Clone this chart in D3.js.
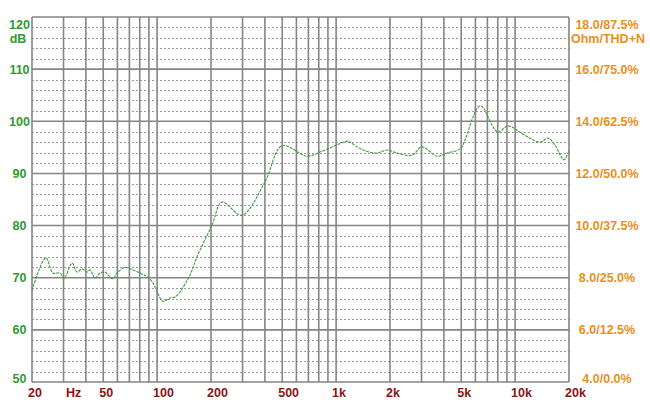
<!DOCTYPE html>
<html><head><meta charset="utf-8">
<script src="https://cdn.jsdelivr.net/npm/d3@7"></script>
<style>
html,body{margin:0;padding:0;background:#fff;}
text{font-family:"Liberation Sans",Arial,sans-serif;font-weight:bold;}
</style></head>
<body>
<svg id="c" width="650" height="410"></svg>
<script>
// ---- data ----
const freqs = [20,23.9,26.2,28.7,30.2,33.5,35.7,38.1,40.6,42.2,45.0,48.0,51.2,53.2,56.7,59.7,66.2,70.6,80.2,88.9,94.8,99.9,107.9,118,125.9,134.3,152.6,167,202.6,230.4,298,400.6,498.6,687.6,812.8,1166,1195,1414,1692,1924,2188,2654,3018,3662,4164,4922,5248,5818,6284,6616,7056,8026,9008,9610,10648,13772,15268,16706,18756,20000];
const splDb = [67.6,73.8,70.9,70.9,69.9,72.8,71.1,71.7,71.1,71.5,69.9,70.9,71.1,70.5,69.8,70.9,72.0,71.7,70.9,70.1,69.0,67.3,65.5,66.1,66.3,67.3,70.5,74.0,80.1,84.5,82.0,88.4,95.3,93.3,94.1,96.2,96.0,94.5,93.9,94.5,93.9,93.5,95.1,93.3,93.9,94.7,96.4,100.8,102.9,102.7,100.8,97.9,99.1,98.9,97.9,96.0,96.8,95.4,92.6,94.5];
const leftTicks = [50,60,70,80,90,100,110,120];
const leftUnit = "dB";
const rightLabels = ["4.0/0.0%","6.0/12.5%","8.0/25.0%","10.0/37.5%","12.0/50.0%","14.0/62.5%","16.0/75.0%","18.0/87.5%"];
const rightUnit = "Ohm/THD+N";
const xTickValues = [20,50,100,200,500,1000,2000,5000,10000,20000];
const xTickText = ["20","50","100","200","500","1k","2k","5k","10k","20k"];
const xUnit = "Hz";
const xGridValues = [20,30,40,50,60,70,80,90,100,200,300,400,500,600,700,800,900,1000,2000,3000,4000,5000,6000,7000,8000,9000,10000,20000];
const minorDb = d3.range(50,121,2);

// ---- layout ----
const L=32,R=569,T=17,B=382;
const x = d3.scaleLog().domain([20,20000]).range([L,R]);
const y = d3.scaleLinear().domain([50,120]).range([B,T]);
const svg = d3.select("#c");
const green="#2f9a2f", orange="#e8901c", red="#8b1414", grid="#858585";

// minor dotted lines
svg.append("g").selectAll("line").data(minorDb.filter(d=>d%10!==0)).join("line")
  .attr("x1",L).attr("x2",R).attr("y1",d=>Math.round(y(d))+0.5).attr("y2",d=>Math.round(y(d))+0.5)
  .attr("stroke","#999").attr("stroke-width",1).attr("stroke-dasharray","2,2");
// vertical grid
svg.append("g").selectAll("line").data(xGridValues).join("line")
  .attr("x1",d=>x(d)).attr("x2",d=>x(d)).attr("y1",T).attr("y2",B)
  .attr("stroke",grid).attr("stroke-width",1.6);
// major horizontal
svg.append("g").selectAll("line").data(leftTicks).join("line")
  .attr("x1",L).attr("x2",R).attr("y1",d=>y(d)).attr("y2",d=>y(d))
  .attr("stroke",grid).attr("stroke-width",1.6);

// curve
const line = d3.line().x((d,i)=>x(freqs[i])).y(d=>y(d)).curve(d3.curveCatmullRom.alpha(0.5));
svg.append("path").attr("d",line(splDb)).attr("fill","none")
  .attr("stroke","#3c9c3c").attr("stroke-width",1.1).attr("stroke-dasharray","3,1");

// left labels
const ly = d=> d===120 ? y(d)+7.5 : (d===50 ? y(d)-4 : y(d));
svg.append("g").selectAll("text").data(leftTicks).join("text")
  .attr("x",19.5).attr("y",d=>ly(d)).attr("dy","0.36em").attr("text-anchor","middle")
  .attr("fill",green).attr("font-size",12.5).text(d=>d);
svg.append("text").attr("x",18).attr("y",y(120)+21.5).attr("dy","0.36em").attr("text-anchor","middle")
  .attr("fill",green).attr("font-size",12.5).text(leftUnit);

// right labels
svg.append("g").selectAll("text").data(rightLabels).join("text")
  .attr("x",607).attr("y",(d,i)=>ly(leftTicks[i])).attr("dy","0.36em").attr("text-anchor","middle")
  .attr("fill",orange).attr("font-size",12.5).text(d=>d);
svg.append("text").attr("x",608).attr("y",y(120)+21).attr("dy","0.36em").attr("text-anchor","middle")
  .attr("fill",orange).attr("font-size",12.5).text(rightUnit);

// bottom labels
svg.append("g").selectAll("text").data(xTickValues).join("text")
  .attr("x",d=>x(d)-4).attr("y",392).attr("dy","0.36em").attr("text-anchor","start")
  .attr("fill",red).attr("font-size",12.5).text((d,i)=>xTickText[i]);
svg.append("text").attr("x",x(30)+2.5).attr("y",392).attr("dy","0.36em").attr("text-anchor","start")
  .attr("fill",red).attr("font-size",12.5).text(xUnit);
</script>
</body></html>
